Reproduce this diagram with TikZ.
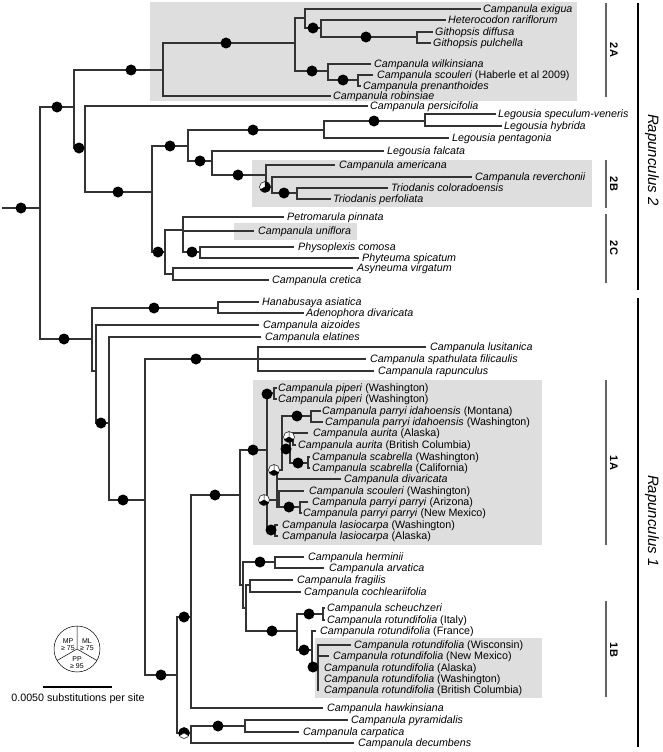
\documentclass[tikz,border=0pt]{standalone}
\usepackage{fontspec}
\setmainfont{Liberation Sans}
\definecolor{boxgray}{RGB}{222,222,222}
\definecolor{bargray}{RGB}{100,100,100}
\newcommand\lf[5]{\coordinate (#1) at (#2,#4); \node[lab] (#1t) at (#3,{#4+3.8}) {#5};}
\newcommand\ed[2]{\draw[br] (#1 |- #2) -- (#2);}
\newcommand\vt[3]{\draw[br] (#1 |- #2) -- (#1 |- #3);}
\newcommand\dt[2]{\fill (#1,#2) circle[radius=5.5pt];}
\newcommand\pie[5]{\begin{scope}[shift={(#1,#2)}]
 \fill[white] (0,0) circle[radius=5.5pt];
 \fill[#3] (0,0) -- (90:5.5pt) arc[start angle=90,end angle=210,radius=5.5pt] -- cycle;
 \fill[#4] (0,0) -- (-30:5.5pt) arc[start angle=-30,end angle=90,radius=5.5pt] -- cycle;
 \fill[#5] (0,0) -- (210:5.5pt) arc[start angle=210,end angle=330,radius=5.5pt] -- cycle;
 \draw[line width=0.5pt] (0,0) circle[radius=5.5pt] (0,0)--(90:5.5pt) (0,0)--(210:5.5pt) (0,0)--(330:5.5pt);
 \end{scope}}
\newcommand\up[1]{\textup{#1}}
\begin{document}
\begin{tikzpicture}[x=1pt,y=-1pt,
  br/.style={line width=1.1pt, black!80, line cap=rect},
  lab/.style={font=\fontsize{10.7}{12}\selectfont\itshape, inner sep=0pt, anchor=base west},
  grp/.style={line width=2pt, bargray},
  grplab/.style={font=\fontsize{11}{13}\selectfont\bfseries, rotate=-90},
  big/.style={line width=2.6pt, black},
  biglab/.style={font=\fontsize{15}{17}\selectfont\itshape, rotate=-90},
  leg/.style={font=\fontsize{7}{8}\selectfont, inner sep=0pt, align=center}]
\useasboundingbox (0,0) rectangle (662,752);
% boxes
\fill[boxgray] (150,2) rectangle (577,101);
\fill[boxgray] (252,160) rectangle (592,207);
\fill[boxgray] (234,223) rectangle (357,240);
\fill[boxgray] (253,380) rectangle (542,545);
\fill[boxgray] (315,638) rectangle (542,698);
% internal coordinates
\coordinate (rs) at (3,208); \coordinate (r0) at (40,208);
\coordinate (R2) at (74,107); \coordinate (A2) at (163,70); \coordinate (a2x) at (295,43);
\coordinate (a2e) at (305,18); \coordinate (a2h) at (321,28); \coordinate (a2g) at (417,37);
\coordinate (a2w) at (328,71); \coordinate (a2s) at (358,80);
\coordinate (n85) at (85,148); \coordinate (n152) at (152,192); \coordinate (n188) at (188,146);
\coordinate (n324) at (324,130); \coordinate (n425) at (425,121); \coordinate (n212) at (212,161);
\coordinate (n266) at (266,175); \coordinate (n272) at (272,187); \coordinate (n297b) at (297,193);
\coordinate (n165) at (165,252); \coordinate (n183) at (183,230); \coordinate (n200) at (200,252);
\coordinate (n173) at (173,274);
\coordinate (n92) at (92,339); \coordinate (n218) at (218,308); \coordinate (n96) at (96,371);
\coordinate (n109) at (109,423); \coordinate (n145) at (145,500); \coordinate (n258) at (258,359);
\coordinate (n177) at (177,675); \coordinate (n191) at (191,617); \coordinate (nA) at (240,495);
\coordinate (n1A) at (267,450); \coordinate (npip) at (274,393); \coordinate (nK) at (277,500);
\coordinate (nL) at (282,470); \coordinate (nidah) at (311,416); \coordinate (nN) at (290,449);
\coordinate (naur) at (293,439); \coordinate (nscab) at (308,463); \coordinate (nM) at (279,499);
\coordinate (npar) at (300,507); \coordinate (nlas) at (275,531); \coordinate (nB) at (243,585);
\coordinate (nherm) at (275,562); \coordinate (nC) at (246,608); \coordinate (nD) at (250,585);
\coordinate (n1B) at (297,631); \coordinate (nsch) at (323,614); \coordinate (n312) at (312,650);
\coordinate (n318) at (318,667); \coordinate (nbot) at (191,733); \coordinate (npyr) at (245,726);
% leaves
\lf{exi}{480}{483}{9}{Campanula exigua}
\lf{het}{445}{448}{20}{Heterocodon rariflorum}
\lf{gdi}{432}{435}{32}{Githopsis diffusa}
\lf{gpu}{430}{433}{43}{Githopsis pulchella}
\lf{wil}{370}{374}{64}{Campanula wilkinsiana}
\lf{scH}{372}{377}{75}{Campanula scouleri \up{(Haberle et al 2009)}}
\lf{pre}{360}{363}{86}{Campanula prenanthoides}
\lf{rob}{330}{333}{96}{Campanula robinsiae}
\lf{per}{367}{370}{106}{Campanula persicifolia}
\lf{spe}{495}{498}{114}{Legousia speculum-veneris}
\lf{hyb}{501}{504}{126}{Legousia hybrida}
\lf{pen}{448}{452}{138}{Legousia pentagonia}
\lf{fal}{383}{387}{151}{Legousia falcata}
\lf{ame}{334}{339}{165}{Campanula americana}
\lf{rev}{471}{475}{177}{Campanula reverchonii}
\lf{col}{387}{391}{188}{Triodanis coloradoensis}
\lf{prf}{330}{333}{199}{Triodanis perfoliata}
\lf{pet}{283}{287}{217}{Petromarula pinnata}
\lf{uni}{253}{258}{231}{Campanula uniflora}
\lf{phy}{293}{298}{247}{Physoplexis comosa}
\lf{spi}{358}{362}{258}{Phyteuma spicatum}
\lf{asy}{352}{357}{268}{Asyneuma virgatum}
\lf{cre}{268}{272}{280}{Campanula cretica}
\lf{han}{258}{262}{302}{Hanabusaya asiatica}
\lf{ade}{303}{306}{313}{Adenophora divaricata}
\lf{aiz}{258}{263}{325}{Campanula aizoides}
\lf{ela}{260}{265}{337}{Campanula elatines}
\lf{lus}{425}{430}{347}{Campanula lusitanica}
\lf{spa}{365}{370}{359}{Campanula spathulata filicaulis}
\lf{rap}{373}{378}{371}{Campanula rapunculus}
\lf{pi1}{276}{278}{388}{Campanula piperi \up{(Washington)}}
\lf{pi2}{276}{278}{399}{Campanula piperi \up{(Washington)}}
\lf{iMT}{320}{322}{411}{Campanula parryi idahoensis \up{(Montana)}}
\lf{iWA}{322}{325}{422}{Campanula parryi idahoensis \up{(Washington)}}
\lf{aAK}{307}{313}{433}{Campanula aurita \up{(Alaska)}}
\lf{aBC}{295}{298}{445}{Campanula aurita \up{(British Columbia)}}
\lf{sWA}{309}{312}{457}{Campanula scabrella \up{(Washington)}}
\lf{sCA}{309}{312}{468}{Campanula scabrella \up{(California)}}
\lf{div}{340}{344}{479}{Campanula divaricata}
\lf{sco}{303}{309}{491}{Campanula scouleri \up{(Washington)}}
\lf{pAZ}{307}{312}{502}{Campanula parryi parryi \up{(Arizona)}}
\lf{pNM}{301}{303}{513}{Campanula parryi parryi \up{(New Mexico)}}
\lf{lWA}{277}{282}{525}{Campanula lasiocarpa \up{(Washington)}}
\lf{lAK}{277}{282}{536}{Campanula lasiocarpa \up{(Alaska)}}
\lf{her}{303}{308}{557}{Campanula herminii}
\lf{arv}{323}{329}{568}{Campanula arvatica}
\lf{fra}{292}{297}{580}{Campanula fragilis}
\lf{coc}{300}{304}{592}{Campanula cochleariifolia}
\lf{sch}{324}{327}{608}{Campanula scheuchzeri}
\lf{rIt}{324}{327}{620}{Campanula rotundifolia \up{(Italy)}}
\lf{rFr}{315}{320}{631}{Campanula rotundifolia \up{(France)}}
\lf{rWi}{350}{354}{645}{Campanula rotundifolia \up{(Wisconsin)}}
\lf{rNM}{328}{333}{656}{Campanula rotundifolia \up{(New Mexico)}}
\lf{rAK}{318}{324}{668}{Campanula rotundifolia \up{(Alaska)}}
\lf{rWA}{318}{324}{679}{Campanula rotundifolia \up{(Washington)}}
\lf{rBC}{318}{324}{690}{Campanula rotundifolia \up{(British Columbia)}}
\lf{haw}{322}{327}{708}{Campanula hawkinsiana}
\lf{pyr}{347}{351}{720}{Campanula pyramidalis}
\lf{car}{298}{303}{732}{Campanula carpatica}
\lf{dec}{353}{358}{743}{Campanula decumbens}
% edges
\draw[br] (rs) -- (r0);
\ed{r0}{R2}\ed{R2}{A2}\ed{A2}{a2x}\ed{a2x}{a2e}\ed{a2e}{exi}\ed{a2e}{a2h}\ed{a2h}{het}
\ed{a2h}{a2g}\ed{a2g}{gdi}\ed{a2g}{gpu}\ed{a2x}{a2w}\ed{a2w}{wil}\ed{a2w}{a2s}\ed{a2s}{scH}
\ed{a2s}{pre}\ed{A2}{rob}
\ed{R2}{n85}\ed{n85}{per}\ed{n85}{n152}\ed{n152}{n188}\ed{n188}{n324}\ed{n324}{n425}
\ed{n425}{spe}\ed{n425}{hyb}\ed{n324}{pen}\ed{n188}{n212}\ed{n212}{fal}\ed{n212}{n266}
\ed{n266}{ame}\ed{n266}{n272}\ed{n272}{rev}\ed{n272}{n297b}\ed{n297b}{col}\ed{n297b}{prf}
\ed{n152}{n165}\ed{n165}{n183}\ed{n183}{pet}\ed{n183}{uni}\ed{n183}{n200}\ed{n200}{phy}
\ed{n200}{spi}\ed{n165}{n173}\ed{n173}{asy}\ed{n173}{cre}
\vt{r0}{R2}{n92}\vt{R2}{A2}{n85}\vt{A2}{a2x}{rob}\vt{a2x}{a2e}{a2w}\vt{a2e}{exi}{a2h}
\vt{a2h}{het}{a2g}\vt{a2g}{gdi}{gpu}\vt{a2w}{wil}{a2s}\vt{a2s}{scH}{pre}\vt{n85}{per}{n152}
\vt{n152}{n188}{n165}\vt{n188}{n324}{n212}\vt{n324}{n425}{pen}\vt{n425}{spe}{hyb}
\vt{n212}{fal}{n266}\vt{n266}{ame}{n272}\vt{n272}{rev}{n297b}\vt{n297b}{col}{prf}
\vt{n165}{n183}{n173}\vt{n183}{pet}{n200}\vt{n200}{phy}{spi}\vt{n173}{asy}{cre}
\ed{r0}{n92}\ed{n92}{n218}\ed{n218}{han}\ed{n218}{ade}\ed{n92}{n96}\ed{n96}{aiz}
\ed{n96}{n109}\ed{n109}{ela}\ed{n109}{n145}\ed{n145}{n258}\ed{n258}{lus}\ed{n258}{spa}
\ed{n258}{rap}
\ed{n145}{n177}\ed{n177}{n191}\ed{n191}{nA}\ed{nA}{n1A}\ed{n1A}{npip}\ed{npip}{pi1}
\ed{npip}{pi2}\ed{n1A}{nK}\ed{nK}{nL}\ed{nL}{nidah}\ed{nidah}{iMT}\ed{nidah}{iWA}
\ed{nL}{nN}\ed{nN}{naur}\ed{naur}{aAK}\ed{naur}{aBC}\ed{nN}{nscab}\ed{nscab}{sWA}
\ed{nscab}{sCA}\ed{nK}{div}\ed{nK}{nM}\ed{nM}{sco}\ed{nM}{npar}\ed{npar}{pAZ}\ed{npar}{pNM}
\ed{n1A}{nlas}\ed{nlas}{lWA}\ed{nlas}{lAK}\ed{nA}{nB}\ed{nB}{nherm}\ed{nherm}{her}
\ed{nherm}{arv}\ed{nB}{nC}\ed{nC}{nD}\ed{nD}{fra}\ed{nD}{coc}\ed{nC}{n1B}\ed{n1B}{nsch}
\ed{nsch}{sch}\ed{nsch}{rIt}\ed{n1B}{n312}\ed{n312}{rFr}\ed{n312}{n318}\ed{n318}{rWi}
\ed{n318}{rNM}\ed{n191}{haw}\ed{n177}{nbot}\ed{nbot}{npyr}\ed{npyr}{pyr}
\ed{npyr}{car}\ed{nbot}{dec}
\vt{n92}{n218}{n96}\vt{n218}{han}{ade}\vt{n96}{aiz}{n109}\vt{n109}{ela}{n145}
\vt{n145}{n258}{n177}\vt{n258}{lus}{rap}\vt{n177}{n191}{nbot}
\vt{n191}{nA}{haw}\vt{nA}{n1A}{nB}\vt{n1A}{npip}{nlas}\vt{npip}{pi1}{pi2}\vt{nK}{nL}{npar}
\vt{nL}{nidah}{nL}\vt{nidah}{iMT}{iWA}\vt{nN}{naur}{nscab}\vt{naur}{aAK}{aBC}
\vt{nscab}{sWA}{sCA}\vt{nM}{sco}{npar}\vt{npar}{pAZ}{pNM}\vt{nlas}{lWA}{lAK}
\vt{nB}{nherm}{nC}\vt{nherm}{her}{arv}\vt{nC}{nD}{n1B}\vt{nD}{fra}{coc}\vt{n1B}{nsch}{n312}
\vt{nsch}{sch}{rIt}\vt{n312}{rFr}{n318}\vt{n318}{rWi}{rBC}\vt{nbot}{npyr}{dec}\vt{npyr}{pyr}{car}
% support dots
\dt{21}{208}\dt{57}{107}\dt{131}{70}\dt{226}{43}\dt{313}{28}\dt{366}{37}\dt{312}{71}\dt{343}{80}
\dt{79}{148}\dt{118}{192}\dt{170}{146}\dt{253}{130}\dt{374}{121}\dt{200}{161}\dt{238}{175}
\dt{284}{193}\dt{158}{252}\dt{192}{252}
\dt{64}{339}\dt{154}{308}\dt{101}{423}\dt{123}{500}\dt{196}{359}\dt{161}{675}\dt{184}{617}
\dt{215}{495}\dt{253}{450}\dt{267}{394}\dt{297}{416}\dt{286}{449}\dt{298}{463}\dt{289}{507}
\dt{271}{530}\dt{260}{562}\dt{272}{631}\dt{309}{614}\dt{304}{650}\dt{313}{667}\dt{218}{726}
\pie{265}{187}{white}{black}{black}
\pie{264}{500}{white}{white}{black}
\pie{274}{470}{white}{white}{black}
\pie{289}{437}{white}{white}{black}
\pie{184}{733}{black}{black}{white}
% legend
\coordinate (lc) at (77,649);
\draw[line width=0.5pt] (lc) circle[radius=23pt] (lc)--++(90:23pt) (lc)--++(210:23pt) (lc)--++(330:23pt);
\node[leg] (lmp) at (68,645) {MP\\[-1pt]≥ 75};
\node[leg] (lml) at (87,645) {ML\\[-1pt]≥ 75};
\node[leg] (lpp) at (77,663) {PP\\[-1pt]≥ 95};
\coordinate (sb1) at (43,687); \coordinate (sb2) at (112,687);
\draw[line width=1.1pt] (sb1) -- (sb2);
\node[font=\fontsize{10.7}{12}\selectfont, inner sep=0pt] (sbl) at (78,699) {0.0050 substitutions per site};
% clade bars
\draw[grp] (606,3) -- (606,97); \node[grplab] (l2A) at (614,50) {2A};
\draw[grp] (606,160) -- (606,208); \node[grplab] (l2B) at (614,184) {2B};
\draw[grp] (606,214) -- (606,283); \node[grplab] (l2C) at (614,248) {2C};
\draw[grp] (606,380) -- (606,545); \node[grplab] (l1A) at (614,463) {1A};
\draw[grp] (606,601) -- (606,697); \node[grplab] (l1B) at (614,650) {1B};
\draw[big] (638,3) -- (638,290); \node[biglab] (lR2) at (652,160) {Rapunculus 2};
\draw[big] (638,298) -- (638,747); \node[biglab] (lR1) at (652,521) {Rapunculus 1};
\end{tikzpicture}
\end{document}
